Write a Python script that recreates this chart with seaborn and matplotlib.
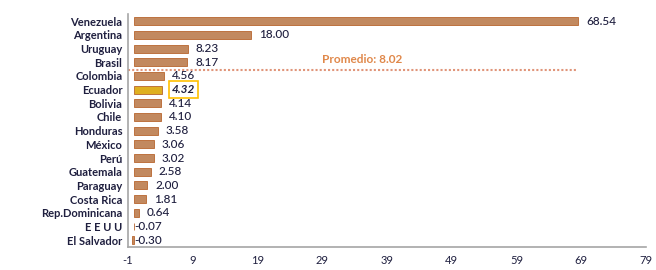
import matplotlib.pyplot as plt
import seaborn as sns
import pandas as pd

sns.set_style("white")
plt.rcParams["font.family"] = ["Lato", "DejaVu Sans"]

countries = ["Venezuela", "Argentina", "Uruguay", "Brasil", "Colombia", "Ecuador",
             "Bolivia", "Chile", "Honduras", "México", "Perú", "Guatemala",
             "Paraguay", "Costa Rica", "Rep.Dominicana", "E E U U", "El Salvador"]
values = [68.54, 18.00, 8.23, 8.17, 4.56, 4.32, 4.14, 4.10, 3.58, 3.06, 3.02,
          2.58, 2.00, 1.81, 0.64, -0.07, -0.30]
average = 8.02
highlight = "Ecuador"
x_ticks = [-1, 9, 19, 29, 39, 49, 59, 69, 79]

bar_color = "#D2874E"
hi_color = "#FFC000"
text_color = "#1F1F3F"

df = pd.DataFrame({"country": countries, "value": values})
palette = [hi_color if c == highlight else bar_color for c in countries]

fig = plt.figure(figsize=(6.56, 2.70), dpi=100)
ax = fig.add_axes([0.195, 0.085, 0.79, 0.862])

sns.barplot(
    data=df,
    x="value",
    y="country",
    hue="country",
    palette=palette,
    legend=False,
    orient="h",
    width=0.58,
    edgecolor="#B8652E",
    linewidth=0.6,
    ax=ax
)

for i, (c, v) in enumerate(zip(countries, values)):
    pos = v + 1.2 if v > 0 else 0.0
    if c == highlight:
        ax.text(pos + 0.3, i, f"{v:.2f}", va="center", ha="left",
                fontsize=8.5, fontweight="bold", style="italic", color=text_color,
                bbox=dict(boxstyle="square,pad=0.25", fc="none",
                          ec=hi_color, lw=1.2))
    else:
        ax.text(pos, i, f"{v:.2f}", va="center", ha="left",
                fontsize=8.5, fontweight="medium", color=text_color)

ax.plot([-1, 68.5], [3.55, 3.55], linestyle=(0, (1, 1)),
        color="#E0957A", lw=1.5)
ax.text(29, 3.2, f"Promedio: {average:.2f}", color="#E0884A",
        fontsize=8.5, fontweight="bold", ha="left", va="bottom")

ax.set_xlim(-1, 79)
ax.set_ylim(16.5, -0.5)
ax.set_xticks(x_ticks)
ax.set_xticklabels([str(t) for t in x_ticks], fontsize=8, color=text_color)
ax.set_yticks(range(len(countries)))
ax.set_yticklabels(countries, fontsize=8, fontweight="bold", color=text_color)
ax.set_xlabel("")
ax.set_ylabel("")

for s in ["top", "right"]:
    ax.spines[s].set_visible(False)
for s in ["left", "bottom"]:
    ax.spines[s].set_color("#A6A6A6")
    ax.spines[s].set_linewidth(1.2)

ax.tick_params(axis="x", direction="in", length=5, color="#A6A6A6", pad=6)
ax.tick_params(axis="y", length=0, pad=4)
ax.set_yticks([i + 0.5 for i in range(-1, len(countries))], minor=True)
ax.tick_params(axis="y", which="minor", direction="out", length=4,
               color="#A6A6A6", width=1.2)

plt.savefig("out.png", dpi=100)
plt.close()
